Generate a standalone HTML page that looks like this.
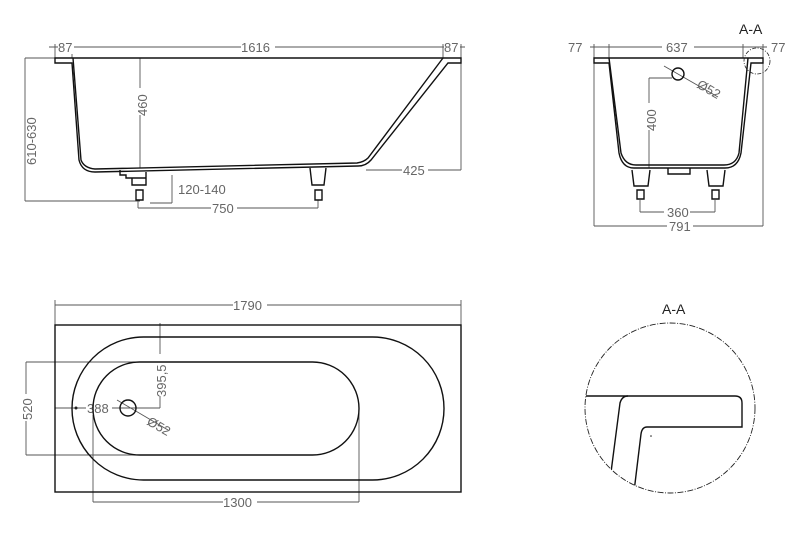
<!DOCTYPE html>
<html><head><meta charset="utf-8"><style>
html,body{margin:0;padding:0;background:#fff;}
svg{display:block;}
text{font-family:"Liberation Sans",sans-serif;font-size:13px;fill:#666;}
.d{stroke:#555;stroke-width:0.9;fill:none;}
.k{stroke:#111;stroke-width:1.4;fill:none;}
</style></head><body>
<svg width="795" height="539" viewBox="0 0 795 539" xmlns="http://www.w3.org/2000/svg">
<!-- SIDE VIEW -->
<path class="d" d="M49 47H465 M55 44V58 M72 44V58 M443 44V58 M461 44V170 M25 58H55 M25 58V201 M25 201H140 M140 58V168 M172 175V203 M150 203H172 M138 208H318 M138 200V208 M318 200V208 M366 170H461"/>
<rect x="58" y="40" width="16" height="14" fill="#fff"/><text x="58" y="52">87</text>
<rect x="241" y="40" width="34" height="14" fill="#fff"/><text x="241" y="52">1616</text>
<rect x="444" y="40" width="16" height="14" fill="#fff"/><text x="444" y="52">87</text>
<text x="178" y="194">120-140</text>
<rect x="211" y="202" width="26" height="13" fill="#fff"/><text x="212" y="213">750</text>
<rect x="402" y="164" width="26" height="13" fill="#fff"/><text x="403" y="175">425</text>
<text transform="translate(36,165) rotate(-90)">610-630</text>
<rect x="134" y="88" width="13" height="27" fill="#fff"/><text transform="translate(147,116) rotate(-90)">460</text>
<path class="k" d="M55 58H461 V63 H448 L371 160 Q366 166 358 166 L95 172 Q82 172 79 160 L72 63 H55Z"/>
<path class="k" d="M73 58 L81 160 Q84 168 95 169 L357 163 Q364 162 368 158 L443 58"/>
<path class="k" d="M120 170 V175 H126 V178 H146 V172 M132 178 V185 H146 V178 M136 190 V200 H143 V190Z M310 168 L312 185 H324 L326 168 M315 190 V200 H322 V190Z"/>
<!-- END VIEW -->
<path class="d" d="M590 47H767 M594 44V226 M609 44V58 M743 44V58 M763 44V226 M594 226H763 M649 78V168 M649 78H672 M640 200V212 M715 200V212 M640 212H715 M664 66L718 97"/>
<text x="568" y="52">77</text><text x="771" y="52">77</text>
<rect x="662" y="40" width="32" height="14" fill="#fff"/><text x="666" y="52">637</text>
<rect x="664" y="206" width="26" height="13" fill="#fff"/><text x="667" y="217">360</text>
<rect x="667" y="220" width="26" height="13" fill="#fff"/><text x="669" y="231">791</text>
<text transform="translate(696,87) rotate(30)">Ø52</text>
<rect x="644" y="103" width="13" height="27" fill="#fff"/><text transform="translate(656,131) rotate(-90)">400</text>
<text x="739" y="34" style="font-size:14px;fill:#222">A-A</text>
<path class="k" d="M594 58H763 V63 H751 L741 153 Q738 168 725 168 H634 Q622 168 619 153 L609 63 H594Z"/>
<path class="k" d="M609 58 L621 153 Q625 165 636 165 H724 Q736 165 739 153 L748 58"/>
<circle cx="678" cy="74" r="6" class="k"/>
<circle cx="757" cy="61" r="13" fill="none" stroke="#222" stroke-width="0.8" stroke-dasharray="4 1.5 1 1.5"/>
<path class="k" d="M668 168 V174 H690 V168 M632 170 L634 186 H648 L650 170 M637 190V199H644V190Z M707 170 L709 186 H723 L725 170 M712 190V199H719V190Z"/>
<!-- PLAN VIEW -->
<path class="d" d="M55 305H461 M55 300V325 M461 300V335 M26 362H150 M26 455H150 M26 362V455 M55 408H160 M160 323V408 M93 408V502 M359 408V502 M93 502H359 M117 400L168 430"/>
<rect x="233" y="299" width="34" height="14" fill="#fff"/><text x="233" y="310">1790</text>
<rect x="223" y="496" width="34" height="14" fill="#fff"/><text x="223" y="507">1300</text>
<rect x="86" y="402" width="26" height="13" fill="#fff"/><text x="87" y="413">388</text>
<rect x="20" y="394" width="13" height="27" fill="#fff"/><text transform="translate(32,420) rotate(-90)">520</text>
<rect x="154" y="354" width="13" height="42" fill="#fff"/><text transform="translate(166,397) rotate(-90)">395,5</text>
<text transform="translate(146,424) rotate(30)">Ø52</text>
<rect x="55" y="325" width="406" height="167" class="k"/>
<rect x="72" y="337" width="372" height="143" rx="71.5" class="k"/>
<rect x="93" y="362" width="266" height="93" rx="46.5" class="k"/>
<circle cx="128" cy="408" r="8" class="k"/>
<circle cx="76" cy="408" r="1.5" fill="#222"/>
<!-- DETAIL -->
<text x="662" y="314" style="font-size:14px;fill:#222">A-A</text>
<defs><clipPath id="c"><circle cx="670" cy="408" r="85"/></clipPath></defs>
<g clip-path="url(#c)">
<path class="k" d="M580 396 H735 Q742 396 742 403 V427 H647 Q642 427 641 434 L633 500"/>
<path class="k" d="M610 480 L620 403 Q622 396 628 396"/>
</g>
<circle cx="670" cy="408" r="85" fill="none" stroke="#222" stroke-width="0.9" stroke-dasharray="6 1.5 1 1.5"/>
<circle cx="651" cy="436" r="0.8" fill="#222"/>
</svg>
</body></html>
